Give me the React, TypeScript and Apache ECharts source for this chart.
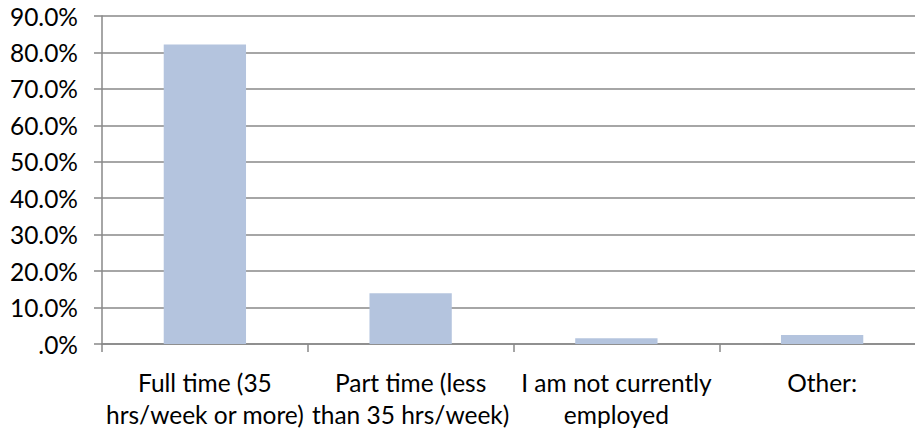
import React, { useEffect, useRef } from "react";
import * as echarts from "echarts";

const categories = [
  "Full time (35\nhrs/week or more)",
  "Part time (less\nthan 35 hrs/week)",
  "I am not currently\nemployed",
  "Other:",
];
const values = [82.2, 13.9, 1.6, 2.5];
const yTicks = { min: 0, max: 90, interval: 10 };

export default function App() {
  const ref = useRef<HTMLDivElement>(null);
  useEffect(() => {
    if (!ref.current) return;
    const chart = echarts.init(ref.current, undefined, { renderer: "svg" });
    const font = "Lato, 'Noto Sans', sans-serif";
    const grey = "#888888";
    chart.setOption({
      animation: false,
      backgroundColor: "#ffffff",
      grid: { left: 102, top: 16, bottom: 81, right: 5, containLabel: false },
      xAxis: {
        type: "category",
        data: categories,
        boundaryGap: true,
        axisLine: { show: true, lineStyle: { color: grey, width: 1.5 } },
        axisTick: { show: true, length: 8, alignWithLabel: false, lineStyle: { color: grey, width: 1.5 } },
        axisLabel: {
          interval: 0,
          color: "#000",
          fontFamily: font,
          fontSize: 24.5,
          lineHeight: 32,
          margin: 22,
        },
      },
      yAxis: {
        type: "value",
        min: yTicks.min,
        max: yTicks.max,
        interval: yTicks.interval,
        axisLine: { show: true, lineStyle: { color: grey, width: 1.5 } },
        axisTick: { show: true, length: 8, lineStyle: { color: grey, width: 1.5 } },
        splitLine: { show: true, lineStyle: { color: grey, width: 1.5 } },
        axisLabel: {
          color: "#000",
          fontFamily: font,
          fontSize: 24.5,
          margin: 24,
          formatter: (v: number) => (v === 0 ? ".0%" : v.toFixed(1) + "%"),
        },
      },
      series: [
        {
          type: "bar",
          data: values,
          barWidth: "40%",
          itemStyle: { color: "#b4c4de" },
        },
      ],
    });
    return () => chart.dispose();
  }, []);
  return (
    <div
      ref={ref}
      style={{ position: "fixed", left: 0, top: 0, width: 930, height: 430, background: "#fff" }}
    />
  );
}
